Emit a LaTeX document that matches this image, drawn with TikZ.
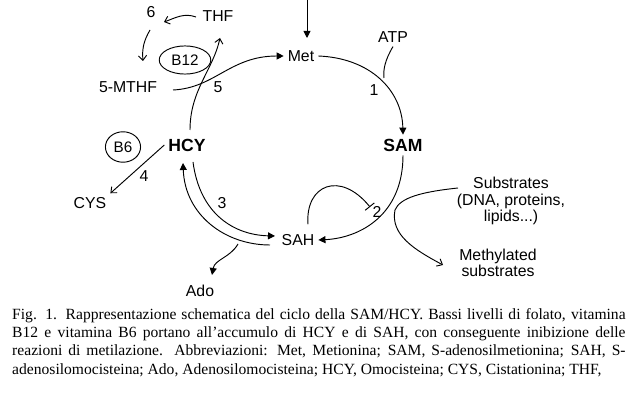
\documentclass[tikz,border=0pt]{standalone}
\usepackage{fontspec}
\setmainfont{Liberation Sans}
\newfontfamily\capfont{Liberation Serif}
\usetikzlibrary{arrows.meta,shapes.geometric}
\begin{document}
\begin{tikzpicture}[x=0.03cm,y=-0.03cm,
  lbl/.style={font=\fontsize{13.5}{14}\selectfont},
  big/.style={font=\fontsize{15}{16}\selectfont\bfseries},
  vit/.style={draw,ellipse,thick,inner sep=1pt,font=\fontsize{13}{14}\selectfont},
  flow/.style={thick,-{Triangle[length=6pt,width=6pt]}},
  thin/.style={thick,-{Straight Barb[length=4pt,width=7pt]}}]
\useasboundingbox (0,0) rectangle (640,400);
\clip (0,0) rectangle (640,400);
% metabolites
\node[lbl] (thf) at (218,16) {THF};
\node[lbl] (six) at (151,12) {6};
\node[lbl] (mthf) at (128,87) {5-MTHF};
\node[vit,minimum width=44pt,minimum height=24pt] (b12) at (185,60) {B12};
\node[lbl] (five) at (218,87) {5};
\node[lbl] (met) at (301,56) {Met};
\node[lbl] (atp) at (393,37) {ATP};
\node[lbl] (one) at (374,90) {1};
\node[big] (sam) at (403,145) {SAM};
\node[big] (hcy) at (187,145) {HCY};
\node[vit,minimum width=30pt,minimum height=26pt] (b6) at (123,147) {B6};
\node[lbl] (four) at (144,176) {4};
\node[lbl] (cys) at (90,203) {CYS};
\node[lbl] (three) at (222,203) {3};
\node[lbl] (sah) at (298,240) {SAH};
\node[lbl] (ado) at (200,291) {Ado};
\node[lbl] (two) at (377,212) {2};
\node[lbl,align=center,inner sep=0pt] (subs) at (511,201) {Substrates\\(DNA, proteins,\\lipids...)};
\node[lbl,align=center,inner sep=0pt] (msubs) at (498,263) {Methylated\\substrates};
\coordinate (top) at (307,0);
\coordinate (mettop) at (307,38);
\coordinate (hcyup) at (190,130);
\coordinate (cross) at (395,210);
\coordinate (subin) at (458,188);
\coordinate (inh) at (370,207);
\coordinate (br) at (238,244);
% folate cycle
\draw[thin] (196,17) to[out=160,in=20] (164,22);
\draw[thin] (150,30) to[out=240,in=95] (143,61);
\draw[thin] (hcyup) .. controls (190,90) and (213,70) .. (220,38);
\draw[flow] (173,90) .. controls (215,88) and (230,56) .. (met.west);
% methionine cycle
\draw[flow] (top) -- (mettop);
\draw[flow] (met.east) .. controls (370,58) and (402,90) .. (sam.north);
\draw[thick] (atp.south) .. controls (385,60) and (383,70) .. (384,78);
\draw[flow] (sam.south) .. controls (403,215) and (360,238) .. (sah.east);
\draw[thick] (subin) .. controls (420,192) and (400,198) .. (cross);
\draw[thin] (cross) .. controls (390,235) and (415,250) .. (443,265);
\draw[thick,-{Bar[width=10pt]}] (sah.north) ++(10,-6) .. controls (305,185) and (340,170) .. (inh);
% HCY <-> SAH
\draw[flow] (193,162) .. controls (200,215) and (235,235) .. (275,236);
\draw[flow] (270,245) .. controls (225,245) and (185,215) .. (183,163);
\draw[flow] (br) to[out=240,in=80] (212,275);
\draw[thin] (hcy.west) -- (cys.north east);
% caption
\node[anchor=north west,inner sep=0pt,text width=18.4cm,align=justify,
  font=\capfont\fontsize{13.3}{15.6}\selectfont] (cap) at (12,308)
  {Fig. 1. Rappresentazione schematica del ciclo della SAM/HCY. Bassi livelli di folato, vitamina B12 e vitamina B6 portano all’accumulo di HCY e di SAH, con conseguente inibizione delle reazioni di metilazione. Abbreviazioni: Met, Metionina; SAM, S-adenosilmetionina; SAH, S-adenosilomocisteina; Ado, Adenosilomocisteina; HCY, Omocisteina; CYS, Cistationina; THF,};
\end{tikzpicture}
\end{document}
